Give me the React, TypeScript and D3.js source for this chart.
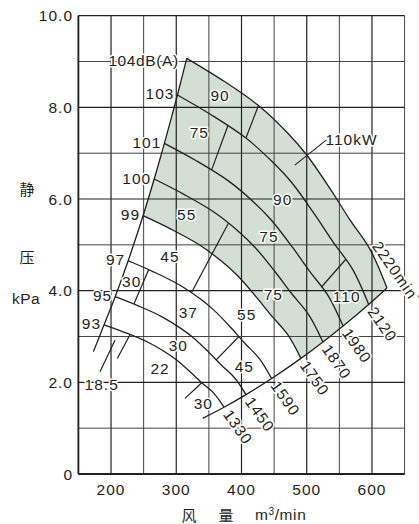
import React from 'react';
import * as d3 from 'd3';

// ---- axis ticks ----
const xTicks = [200, 300, 400, 500, 600];
const xTickLabels = ['200', '300', '400', '500', '600'];
const yTicks = [0, 2, 4, 6, 8, 10];
const yTickLabels = ['0', '2.0', '4.0', '6.0', '8.0', '10.0'];

// ---- speed curves (flow m3/min, static pressure kPa) ----
const speeds = [1330, 1450, 1590, 1750, 1870, 1980, 2120, 2220];
const noiseLabels = ['93', '95', '97', '99', '100', '101', '103', '104dB(A)'];

const curve1330 = [[189.3, 3.255], [221.7, 3.087], [255.2, 2.886], [281.6, 2.674], [299.6, 2.498], [321.1, 2.232], [339.1, 1.992], [357.7, 1.759], [373.2, 1.457]];
const curve1450 = [[206.4, 3.869], [241.7, 3.669], [278.2, 3.43], [307.0, 3.178], [326.6, 2.969], [350.1, 2.653], [369.7, 2.368], [389.9, 2.09], [406.9, 1.732]];
const curve1590 = [[226.3, 4.653], [265.0, 4.412], [305.1, 4.124], [336.6, 3.822], [358.1, 3.57], [383.9, 3.191], [405.4, 2.847], [427.6, 2.514], [446.2, 2.083]];
const curve1750 = [[249.1, 5.636], [291.7, 5.344], [335.8, 4.996], [370.5, 4.63], [394.1, 4.325], [422.5, 3.865], [446.2, 3.449], [470.6, 3.045], [491.1, 2.523]];
const curve1870 = [[266.2, 6.436], [311.7, 6.102], [358.8, 5.705], [395.9, 5.286], [421.2, 4.938], [451.5, 4.413], [476.8, 3.938], [502.9, 3.477], [524.8, 2.881]];
const curve1980 = [[281.8, 7.215], [330.0, 6.841], [379.9, 6.396], [419.2, 5.926], [445.9, 5.537], [478.1, 4.948], [504.8, 4.415], [532.5, 3.898], [555.7, 3.23]];
const curve2120 = [[301.8, 8.27], [353.3, 7.84], [406.8, 7.33], [448.8, 6.79], [477.5, 6.35], [511.9, 5.67], [540.5, 5.06], [570.1, 4.47], [594.9, 3.7]];
const curve2220 = [[316.0, 9.07], [370.0, 8.6], [426.0, 8.04], [470.0, 7.45], [500.0, 6.96], [536.0, 6.22], [566.0, 5.55], [597.0, 4.9], [623.0, 4.06]];
const speedCurves = [curve1330, curve1450, curve1590, curve1750, curve1870, curve1980, curve2120, curve2220];

// left (surge) limit and right (lower) limit lines
const surgeLine = [[173.0, 2.67], [189.3, 3.255], [206.4, 3.869], [226.3, 4.653], [249.1, 5.636], [266.2, 6.436], [281.8, 7.215], [301.8, 8.27], [316.0, 9.07]];
const limitLine = [[340.5, 1.215], [373.2, 1.457], [406.9, 1.732], [446.2, 2.083], [491.1, 2.523], [524.8, 2.881], [555.7, 3.23], [594.9, 3.7], [623.0, 4.06]];

// motor power boundary segments
const kwSegments = [
  [[426.0, 8.04], [406.8, 7.33]],
  [[379.1, 7.6], [354.1, 6.63]],
  [[559.6, 4.68], [522.6, 4.08]],
  [[379.9, 5.47], [323.0, 3.95]],
  [[257.8, 4.46], [235.1, 3.71]],
  [[396.1, 3.0], [361.2, 2.49]],
  [[229.1, 3.04], [209.6, 2.52]],
  [[339.1, 1.99], [313.4, 1.65]],
  [[206.1, 2.92], [183.1, 2.23]],
];
const kwLeader = [[481.7, 6.74], [530.3, 7.29]];
const kwLeaderText = '110kW';

// motor power labels
const kwLabels = ['18.5', '22', '30', '30', '30', '37', '45', '45', '55', '55', '75', '75', '75', '90', '90', '110'];
const kwLabelQ = [185.7, 275.1, 341.5, 303.1, 231.7, 318.5, 290.4, 404.3, 316.0, 408.0, 442.1, 448.7, 335.3, 367.1, 463.2, 561.2];
const kwLabelP = [1.96, 2.31, 1.54, 2.8, 4.2, 3.52, 4.74, 2.34, 5.67, 3.47, 5.19, 3.91, 7.46, 8.25, 5.98, 3.88];

const topSpeedLabelPos = [606.0, 5.04];

const FONT = '"Liberation Sans", Arial, Helvetica, sans-serif';
const CJK = '"Noto Sans CJK SC", "Noto Sans CJK JP", sans-serif';
const INK = '#231f20';
const FILL = '#d3dfd4';

export default function App() {
  const W = 419;
  const H = 524;
  const x = d3.scaleLinear().domain([150, 650]).range([78.4, 404.6]);
  const y = d3.scaleLinear().domain([0, 10]).range([474, 15.7]);
  const line = d3
    .line<number[]>()
    .x((d) => x(d[0]))
    .y((d) => y(d[1]))
    .curve(d3.curveCatmullRom.alpha(0.5));
  const straight = d3
    .line<number[]>()
    .x((d) => x(d[0]))
    .y((d) => y(d[1]));

  // shaded region: 1750 .. 2220 min-1
  const idx1750 = speeds.indexOf(1750);
  const c1750 = speedCurves[idx1750];
  const leftPart = surgeLine.filter((p) => p[0] >= c1750[0][0] - 0.01);
  const rightPart = limitLine.filter((p) => p[0] >= c1750[c1750.length - 1][0] - 0.01).slice().reverse();
  const cont = (s: string | null) => (s || '').replace(/^M/, 'L');
  const shade =
    (line(leftPart) || '') +
    cont(line(curve2220)) +
    cont(line(rightPart)) +
    cont(line(c1750.slice().reverse())) +
    'Z';

  const vGrid = d3.range(150, 651, 50);
  const hGrid = d3.range(0, 11, 1);

  const halo = {
    stroke: '#fff',
    strokeWidth: 3,
    paintOrder: 'stroke' as const,
    strokeLinejoin: 'round' as const,
  };
  const dir = [Math.cos((55 * Math.PI) / 180), Math.sin((55 * Math.PI) / 180)];

  return (
    <svg
      width={W}
      height={H}
      style={{ position: 'absolute', left: 0, top: 0, background: '#fff' }}
      fontFamily={FONT}
    >
      <rect x={0} y={0} width={W} height={H} fill="#fff" />
      <path d={shade} fill={FILL} stroke="none" />

      {/* grid */}
      {vGrid.map((v) => (
        <line
          key={'v' + v}
          x1={x(v)}
          x2={x(v)}
          y1={y(0)}
          y2={y(10)}
          stroke={v % 100 === 0 ? '#222' : '#444'}
          strokeWidth={v % 100 === 0 ? 1.2 : 1}
        />
      ))}
      {hGrid.map((v) => (
        <line
          key={'h' + v}
          x1={x(150)}
          x2={x(650)}
          y1={y(v)}
          y2={y(v)}
          stroke={v % 2 === 0 ? '#222' : '#444'}
          strokeWidth={v % 2 === 0 ? 1.2 : 1}
        />
      ))}
      <line x1={x(150)} x2={x(150)} y1={y(0)} y2={y(10)} stroke={INK} strokeWidth={1.8} />
      <line x1={x(150)} x2={x(650)} y1={y(0)} y2={y(0)} stroke={INK} strokeWidth={1.8} />

      {/* boundary lines */}
      <path d={line(surgeLine) || ''} fill="none" stroke={INK} strokeWidth={1.3} />
      <path d={line(limitLine) || ''} fill="none" stroke={INK} strokeWidth={1.3} />

      {/* speed curves */}
      {speedCurves.map((c, i) => (
        <path key={'c' + speeds[i]} d={line(c) || ''} fill="none" stroke={INK} strokeWidth={1.3} />
      ))}

      {/* power boundary segments */}
      {kwSegments.map((s, i) => (
        <path key={'s' + i} d={straight(s) || ''} fill="none" stroke={INK} strokeWidth={1.2} />
      ))}
      <path d={straight(kwLeader) || ''} fill="none" stroke={INK} strokeWidth={1.1} />

      {/* power labels */}
      {kwLabels.map((t, i) => (
        <text
          key={'k' + i}
          x={x(kwLabelQ[i])}
          y={y(kwLabelP[i])}
          textAnchor="middle"
          dominantBaseline="central"
          fontSize={15.5}
          letterSpacing={1}
          fill={INK}
          style={halo}
        >
          {t}
        </text>
      ))}
      <text
        x={x(kwLeader[1][0]) - 1}
        y={y(kwLeader[1][1])}
        dominantBaseline="central"
        fontSize={15.5}
        letterSpacing={1}
        fill={INK}
        style={halo}
      >
        {kwLeaderText}
      </text>

      {/* noise labels at curve starts */}
      {speedCurves.map((c, i) => {
        const last = i === speedCurves.length - 1;
        return (
          <text
            key={'n' + i}
            x={x(c[0][0]) - (last ? 8 : 3)}
            y={y(c[0][1]) + (last ? 2 : -1)}
            textAnchor="end"
            dominantBaseline="central"
            fontSize={15.5}
            letterSpacing={last ? 0.6 : 1}
            fill={INK}
            style={halo}
          >
            {noiseLabels[i]}
          </text>
        );
      })}

      {/* speed labels at curve ends */}
      {speedCurves.map((c, i) => {
        const last = i === speedCurves.length - 1;
        const e = c[c.length - 1];
        const ax = last ? x(topSpeedLabelPos[0]) : x(e[0]) + 5 * dir[0];
        const ay = last ? y(topSpeedLabelPos[1]) : y(e[1]) + 5 * dir[1];
        return (
          <text
            key={'r' + i}
            x={ax}
            y={ay}
            transform={`rotate(55 ${ax} ${ay})`}
            dominantBaseline="central"
            fontSize={15.5}
            letterSpacing={1}
            fill={INK}
            style={halo}
          >
            {speeds[i]}
            {last ? 'min' : ''}
            {last ? (
              <tspan dy={-5} fontSize={10}>
                −1
              </tspan>
            ) : null}
          </text>
        );
      })}

      {/* axis tick labels */}
      {yTicks.map((v, i) => (
        <text
          key={'yt' + v}
          x={73}
          y={y(v)}
          textAnchor="end"
          dominantBaseline="central"
          fontSize={15.5}
          letterSpacing={1}
          fill={INK}
        >
          {yTickLabels[i]}
        </text>
      ))}
      {xTicks.map((v, i) => (
        <text
          key={'xt' + v}
          x={x(v)}
          y={495}
          textAnchor="middle"
          fontSize={15.5}
          letterSpacing={1}
          fill={INK}
        >
          {xTickLabels[i]}
        </text>
      ))}

      {/* axis titles */}
      <text x={189} y={521} textAnchor="middle" fontSize={15} fontFamily={CJK} fill={INK}>
        风
      </text>
      <text x={226} y={521} textAnchor="middle" fontSize={15} fontFamily={CJK} fill={INK}>
        量
      </text>
      <text x={255} y={520} fontSize={15.5} letterSpacing={0.6} fill={INK}>
        m<tspan dy={-5} fontSize={10}>3</tspan>
        <tspan dy={5}>/min</tspan>
      </text>
      <text x={27} y={188} textAnchor="middle" dominantBaseline="central" fontSize={15} fontFamily={CJK} fill={INK}>
        静
      </text>
      <text x={27} y={256} textAnchor="middle" dominantBaseline="central" fontSize={15} fontFamily={CJK} fill={INK}>
        压
      </text>
      <text x={26} y={298} textAnchor="middle" dominantBaseline="central" fontSize={15.5} letterSpacing={0.5} fill={INK}>
        kPa
      </text>
    </svg>
  );
}
